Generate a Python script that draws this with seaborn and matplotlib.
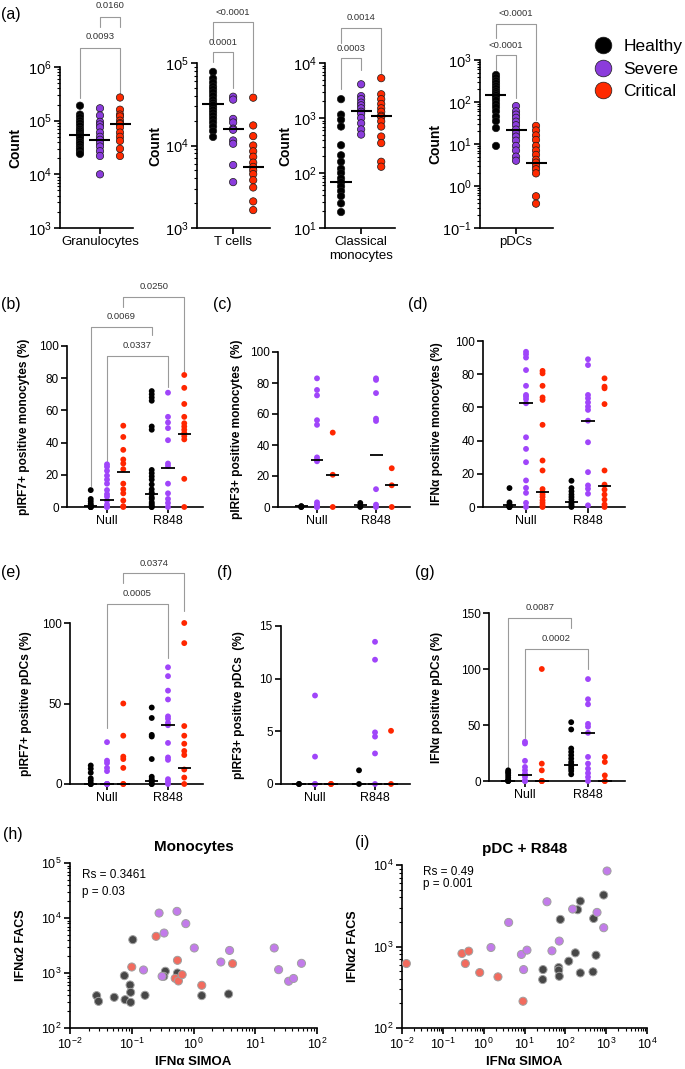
import matplotlib
matplotlib.use("Agg")
import matplotlib.pyplot as plt
import matplotlib.ticker as mticker
from matplotlib.lines import Line2D
from matplotlib.transforms import blended_transform_factory
import numpy as np
import pandas as pd
import seaborn as sns

W, H = 685, 1069
GROUPS = ["Healthy", "Severe", "Critical"]
STIMS = ["Null", "R848"]
OFF = [-0.267, 0.0, 0.267]  # seaborn dodge offsets for 3 hues

PAL_A = {"Healthy": "#000000", "Severe": "#8B3CDC", "Critical": "#FF2A00"}
PAL_B = {"Healthy": "#000000", "Severe": "#A045FA", "Critical": "#FF2600"}
PAL_C = {"Healthy": "#474747", "Severe": "#C27BEA", "Critical": "#F26B5E"}

# ---- (a) cell counts ----
GRAN = {
    "Healthy": [1.9e5, 1.3e5, 1.15e5, 1.0e5, 9.0e4, 8.0e4, 7.0e4, 6.5e4, 6.0e4, 5.5e4,
                5.2e4, 5.0e4, 4.5e4, 4.0e4, 3.7e4, 3.3e4, 3.0e4, 2.8e4, 2.5e4, 2.4e4],
    "Severe": [1.7e5, 1.25e5, 9.5e4, 8.5e4, 7.5e4, 6.0e4, 5.0e4, 4.4e4, 3.8e4, 3.3e4,
               2.7e4, 2.2e4, 1.0e4],
    "Critical": [2.7e5, 1.6e5, 1.3e5, 1.2e5, 1.0e5, 9.0e4, 8.6e4, 7.5e4, 6.0e4, 5.0e4,
                 4.2e4, 3.0e4, 2.2e4],
}
GRAN_MED = [5.4e4, 4.4e4, 8.6e4]

TCELL = {
    "Healthy": [7.8e4, 6.5e4, 5.8e4, 5.2e4, 4.8e4, 4.4e4, 4.0e4, 3.6e4, 3.3e4, 3.1e4,
                2.9e4, 2.7e4, 2.5e4, 2.3e4, 2.1e4, 1.9e4, 1.7e4, 1.5e4, 1.27e4],
    "Severe": [3.9e4, 3.6e4, 2.1e4, 1.9e4, 1.6e4, 1.55e4, 1.15e4, 1.05e4, 5.8e3, 3.6e3],
    "Critical": [3.8e4, 1.75e4, 1.3e4, 1.0e4, 8.5e3, 7.3e3, 6.2e3, 5.5e3, 5.0e3, 4.5e3,
                 3.8e3, 3.1e3, 2.1e3, 1.65e3],
}
TCELL_MED = [3.2e4, 1.6e4, 5.5e3]

CMONO = {
    "Healthy": [2.2e3, 1.15e3, 9.3e2, 7.0e2, 3.2e2, 2.1e2, 1.6e2, 1.2e2, 1.0e2, 8.0e1,
                6.8e1, 5.7e1, 4.7e1, 3.8e1, 2.8e1, 1.95e1],
    "Severe": [4.1e3, 2.5e3, 2.2e3, 1.9e3, 1.7e3, 1.5e3, 1.3e3, 1.2e3, 1.0e3, 8.0e2,
               6.2e2, 5.0e2],
    "Critical": [5.3e3, 2.7e3, 2.2e3, 1.8e3, 1.5e3, 1.3e3, 1.1e3, 1.05e3, 8.7e2, 7.0e2,
                 4.6e2, 3.5e2, 1.6e2, 1.3e2],
}
CMONO_MED = [68, 1.32e3, 1.07e3]

PDC = {
    "Healthy": [440, 380, 320, 280, 240, 210, 180, 160, 145, 130, 110, 90, 75, 60, 45,
                35, 24, 9],
    "Severe": [80, 60, 50, 42, 34, 28, 22, 18, 15, 12, 9, 7, 5, 4],
    "Critical": [27, 21, 16, 12.5, 9, 7, 5.5, 4.2, 3.6, 3.0, 2.5, 2.0, 0.57, 0.38],
}
PDC_MED = [147, 21.5, 3.6]

# ---- (b) pIRF7+ monocytes ----
B_NULL = {
    "Healthy": [10.5, 5, 3.5, 2, 1, 0.5, 0, 0, 0, 0],
    "Severe": [26.5, 25, 22.5, 19.5, 17, 14.5, 10.5, 8, 6.5, 4, 1.5, 0, 0],
    "Critical": [50.5, 43.5, 35.5, 29.5, 27, 23.5, 14.5, 11, 8.5, 4, 0.5, 0],
}
B_R848 = {
    "Healthy": [72, 70, 68, 66, 50, 48, 23, 21, 19, 17, 14, 11, 9, 8, 6, 5, 3, 2, 1, 0, 0],
    "Severe": [71, 56, 52.5, 49, 41.5, 27, 25.5, 14.5, 8.5, 5, 2.5, 0],
    "Critical": [82, 74, 64, 56, 52, 50, 48, 46, 44, 42, 17.5, 0],
}
B_MED = {"Null": [0.5, 4.2, 21.7], "R848": [8.2, 24.3, 45.4]}

# ---- (c) pIRF3+ monocytes ----
C_NULL = {
    "Healthy": [0, 0, 0.5, 0.5],
    "Severe": [83, 75.5, 72, 56, 53, 32, 30.5, 29.5, 3, 1.5, 0, 0],
    "Critical": [48, 20.8, 0],
}
C_R848 = {
    "Healthy": [2.6, 0.5, 0],
    "Severe": [83, 82, 73.5, 57, 55.5, 11.5, 1.5, 0],
    "Critical": [25, 14, 0],
}
C_MED = {"Null": [0.5, 30.4, 20.8], "R848": [1.5, 33.6, 14.1]}

# ---- (d) IFNa+ monocytes ----
D_NULL = {
    "Healthy": [11.4, 2.8, 1.5, 1, 0.5, 0, 0, 0],
    "Severe": [93.5, 92, 90, 82.5, 73, 67.5, 66.5, 65, 62.5, 42, 35, 27, 16, 11.5, 8.5,
               2.5, 0],
    "Critical": [82, 80.5, 73, 66, 64.5, 49.5, 28, 22, 10.8, 9, 7.5, 6, 4, 2.5, 1, 0],
}
D_R848 = {
    "Healthy": [15.8, 11.4, 9.4, 7.5, 6, 4.5, 2.8, 2.8, 1.5, 0.5, 0],
    "Severe": [89, 85.5, 67.5, 65.5, 63, 60.5, 58.5, 52, 39, 21, 13, 11, 8, 1],
    "Critical": [77.5, 72.5, 71.5, 62, 22, 13.5, 10.5, 7.5, 4.5, 1.5, 0],
}
D_MED = {"Null": [1.0, 62.4, 8.8], "R848": [2.8, 51.8, 12.4]}

# ---- (e) pIRF7+ pDCs ----
E_NULL = {
    "Healthy": [11.5, 9.5, 7, 3.5, 2, 0, 0, 0],
    "Severe": [26, 14.5, 13, 10, 8, 0, 0, 0, 0],
    "Critical": [50, 30, 17, 15.5, 10, 0, 0],
}
E_R848 = {
    "Healthy": [47.5, 41, 30.5, 29.5, 15.5, 4.5, 3, 2, 1.5, 0, 0],
    "Severe": [72.5, 67, 58, 52.5, 42, 40.5, 38, 36.5, 25.5, 16.5, 15, 3, 1.5, 0],
    "Critical": [100, 87.5, 36, 30, 25, 20.5, 18, 9, 4, 0],
}
E_MED = {"Null": [0, 0, 0], "R848": [2.0, 36.4, 10.0]}

# ---- (f) pIRF3+ pDCs ----
F_NULL = {
    "Healthy": [0, 0],
    "Severe": [8.4, 2.6, 0, 0],
    "Critical": [0, 0],
}
F_R848 = {
    "Healthy": [1.3, 0],
    "Severe": [13.5, 11.8, 4.9, 4.5, 2.9, 0],
    "Critical": [5.05, 0],
}
F_MED = {"Null": [0, 0, 0], "R848": [0, 0, 0]}

# ---- (g) IFNa+ pDCs ----
G_NULL = {
    "Healthy": [9.5, 8, 7, 5, 3, 1, 0, 0, 0],
    "Severe": [35, 33.5, 18, 12.5, 9.5, 6.5, 5.5, 3.5, 0, 0],
    "Critical": [100, 15.5, 9.5, 0, 0, 0],
}
G_R848 = {
    "Healthy": [52.5, 46, 29, 26, 23, 20, 17, 15, 13, 11, 9, 6],
    "Severe": [91, 73, 68.5, 51, 48.5, 43, 21.5, 15.5, 11, 7, 3.5, 0],
    "Critical": [21.5, 17, 5, 0, 0],
}
G_MED = {"Null": [0, 5.4, 0], "R848": [14.6, 43, 0]}

# ---- (h) Monocytes correlation ----
H_HEALTHY_X = [0.027, 0.029, 0.052, 0.076, 0.078, 0.094, 0.096, 0.096, 0.104, 0.164,
               0.35, 0.33, 0.55, 1.36, 3.7]
H_HEALTHY_Y = [388, 305, 361, 895, 327, 605, 445, 293, 4035, 393, 1075, 870, 1000, 388, 415]
H_SEVERE_X = [0.277, 0.54, 0.75, 0.334, 0.155, 0.31, 1.03, 2.77, 3.84, 20.3, 23.9, 34.7,
              41.7, 56]
H_SEVERE_Y = [12300, 13200, 7900, 5330, 1135, 870, 2850, 1585, 2570, 2850, 1150, 708, 795,
              1500]
H_CRIT_X = [0.1, 0.248, 0.55, 0.505, 0.57, 0.655, 1.36, 4.29]
H_CRIT_Y = [1285, 4640, 1700, 800, 716, 933, 597, 1480]

# ---- (i) pDC + R848 correlation ----
I_HEALTHY_X = [28.4, 27.9, 68.7, 68.7, 71, 75.5, 121, 176, 200, 233, 233, 476, 494, 564, 868]
I_HEALTHY_Y = [521, 393, 552, 512, 431, 2150, 660, 836, 2825, 3605, 474, 489, 2207, 781, 4280]
I_SEVERE_X = [1.51, 4.09, 8.4, 11.5, 9.5, 35.5, 47, 71, 151, 597, 871, 1050]
I_SEVERE_Y = [972, 1973, 799, 902, 521, 3540, 885, 1165, 2880, 2620, 1700, 8440]
I_CRIT_X = [0.0128, 0.294, 0.43, 0.356, 0.8, 2.24, 9.2]
I_CRIT_Y = [618, 820, 877, 618, 479, 424, 213]


sns.set_style("ticks")
plt.rcParams["font.family"] = ["Liberation Sans", "DejaVu Sans"]
plt.rcParams["axes.linewidth"] = 1.2
plt.rcParams["axes.edgecolor"] = "black"
plt.rcParams["text.color"] = "black"
plt.rcParams["axes.labelcolor"] = "black"

fig = plt.figure(figsize=(W / 100, H / 100), dpi=100)


def px_axes(box):
    left, top, right, bottom = box
    return fig.add_axes([left / W, 1 - bottom / H, (right - left) / W, (bottom - top) / H])


def log_ticks(axis):
    axis.set_major_locator(mticker.LogLocator(base=10, numticks=12))
    axis.set_minor_locator(mticker.LogLocator(base=10, subs=np.arange(2, 10), numticks=120))
    axis.set_minor_formatter(mticker.NullFormatter())


def style(ax, labelsize=8.5):
    sns.despine(ax=ax)
    ax.tick_params(which="major", direction="out", length=4, width=1.2, colors="black",
                   labelsize=labelsize, pad=2)
    ax.tick_params(which="minor", direction="out", length=2.2, width=0.8, colors="black")


def bracket(ax, x1, x2, y, y1, y2, text, ty):
    tr = blended_transform_factory(ax.transData, ax.transAxes)
    ax.plot([x1, x1, x2, x2], [y1, y, y, y2], color="#9a9a9a", lw=0.8,
            transform=tr, clip_on=False)
    ax.text((x1 + x2) / 2, ty, text, transform=tr, ha="center", va="center",
            fontsize=6.8, color="#333333")


def count_panel(box, name, data, med, ylim, xlim, lab_x):
    ax = px_axes(box)
    df = pd.DataFrame([(name, g, v) for g in GROUPS for v in data[g]],
                      columns=["cell", "group", "count"])
    sns.stripplot(data=df, x="cell", y="count", hue="group", hue_order=GROUPS,
                  palette=PAL_A, dodge=True, jitter=False, size=5.3,
                  edgecolor="#1a1a1a", linewidth=0.5, legend=False, ax=ax)
    for coll in ax.collections:
        coll.set_clip_on(False)
    for j, m in enumerate(med):
        ax.hlines(m, OFF[j] - 0.14, OFF[j] + 0.14, color="black", lw=1.5, zorder=5)
    ax.set_yscale("log")
    log_ticks(ax.yaxis)
    ax.set_ylim(ylim)
    ax.set_xlim(xlim)
    style(ax, labelsize=10.5)
    ax.tick_params(axis="x", labelsize=9.5)
    ax.set_xlabel("")
    ax.set_ylabel("Count", fontsize=10, fontweight="bold")
    ax.yaxis.set_label_coords(lab_x, 0.5)
    return ax


def dot_panel(box, xlim, ymax, yticks, null, r848, med, ylabel, lab_x):
    ax = px_axes(box)
    rows = []
    for stim, d in (("Null", null), ("R848", r848)):
        for g in GROUPS:
            for v in d[g]:
                rows.append((stim, g, v))
    df = pd.DataFrame(rows, columns=["stim", "group", "value"])
    sns.stripplot(data=df, x="stim", y="value", hue="group", order=STIMS,
                  hue_order=GROUPS, palette=PAL_B, dodge=True, jitter=False,
                  size=4.2, linewidth=0, legend=False, ax=ax)
    for coll in ax.collections:
        coll.set_clip_on(False)
    for i, stim in enumerate(STIMS):
        for j, m in enumerate(med[stim]):
            xc = i + OFF[j]
            ax.hlines(m, xc - 0.11, xc + 0.11, color="black", lw=1.3, zorder=5,
                      clip_on=False)
    ax.set_xlim(xlim)
    ax.set_ylim(0, ymax)
    ax.set_yticks(yticks)
    style(ax)
    ax.tick_params(axis="x", labelsize=9)
    ax.set_xlabel("")
    ax.set_ylabel(ylabel, fontsize=8.6, fontweight="bold")
    ax.yaxis.set_label_coords(lab_x, 0.5)
    return ax


def corr_panel(box, xlim, ylim, hx, hy, sx, sy, cx, cy, title, rs, pval, tx, ty1, ty2):
    ax = px_axes(box)
    df = pd.DataFrame({
        "x": hx + sx + cx,
        "y": hy + sy + cy,
        "group": ["Healthy"] * len(hx) + ["Severe"] * len(sx) + ["Critical"] * len(cx),
    })
    sns.scatterplot(data=df, x="x", y="y", hue="group", hue_order=GROUPS,
                    palette=PAL_C, s=34, edgecolor="#a0a0a0", linewidth=0.7,
                    legend=False, ax=ax, zorder=3)
    for coll in ax.collections:
        coll.set_clip_on(False)
    ax.set_xscale("log")
    ax.set_yscale("log")
    log_ticks(ax.xaxis)
    log_ticks(ax.yaxis)
    ax.set_xlim(xlim)
    ax.set_ylim(ylim)
    style(ax, labelsize=9)
    ax.set_xlabel("IFN\u03b1 SIMOA", fontsize=9.5, fontweight="bold", labelpad=3)
    ax.set_ylabel("IFN\u03b12 FACS", fontsize=9, fontweight="bold")
    ax.yaxis.set_label_coords(-0.175, 0.5)
    ax.set_title(title, fontsize=11, fontweight="bold", pad=9)
    ax.text(tx, ty1, rs, transform=ax.transAxes, fontsize=8.5, va="center")
    ax.text(tx, ty2, pval, transform=ax.transAxes, fontsize=8.5, va="center")
    return ax


# ---- panel (a) ----
ax = count_panel((60, 67, 133, 228), "Granulocytes", GRAN, GRAN_MED, (1e3, 1e6),
                 (-0.533, 0.44), -0.52)
bracket(ax, OFF[0], OFF[2], 1.118, 0.807, 0.814, "0.0093", 1.19)
bracket(ax, OFF[1], OFF[2], 1.31, 1.248, 1.248, "0.0160", 1.385)

ax = count_panel((197, 63, 270, 228), "T cells", TCELL, TCELL_MED, (1e3, 1e5),
                 (-0.48, 0.49), -0.48)
bracket(ax, OFF[0], OFF[1], 1.067, 1.006, 0.848, "0.0001", 1.127)
bracket(ax, OFF[0], OFF[2], 1.248, 1.121, 0.824, "<0.0001", 1.309)

ax = count_panel((325, 63, 395, 228), "Classical\nmonocytes", CMONO, CMONO_MED,
                 (1e1, 1e4), (-0.48, 0.45), -0.46)
bracket(ax, OFF[0], OFF[1], 1.03, 0.842, 0.958, "0.0003", 1.09)
bracket(ax, OFF[0], OFF[2], 1.212, 1.121, 0.939, "0.0014", 1.273)

ax = count_panel((480, 60, 553, 228), "pDCs", PDC, PDC_MED, (1e-1, 1e3),
                 (-0.48, 0.493), -0.51)
bracket(ax, OFF[0], OFF[1], 1.03, 0.94, 0.774, "<0.0001", 1.089)
bracket(ax, OFF[0], OFF[2], 1.214, 1.131, 0.643, "<0.0001", 1.274)

handles = [Line2D([], [], marker="o", ls="", markersize=12, markerfacecolor=PAL_A[g],
                  markeredgecolor="#1a1a1a", markeredgewidth=0.5) for g in GROUPS]
fig.legend(handles, GROUPS, loc="upper left", bbox_to_anchor=(593 / W, 1 - 39 / H),
           frameon=False, fontsize=12.5, handletextpad=0.55, labelspacing=0.42,
           borderaxespad=0, borderpad=0, handlelength=1.2)

# ---- panels (b)-(d) ----
ax = dot_panel((67, 346, 203, 507), (-0.656, 1.574), 100, range(0, 101, 20),
               B_NULL, B_R848, B_MED, "pIRF7+ positive monocytes (%)", -0.272)
bracket(ax, 0 + OFF[2], 1 + OFF[2], 1.306, 1.244, 0.841, "0.0250", 1.37)
bracket(ax, 0 + OFF[0], 1 + OFF[0], 1.12, 0.128, 1.068, "0.0069", 1.186)
bracket(ax, 0 + OFF[1], 1 + OFF[1], 0.94, 0.273, 0.748, "0.0337", 1.002)

dot_panel((278, 352, 410, 507), (-0.661, 1.576), 100, range(0, 101, 20),
          C_NULL, C_R848, C_MED, "pIRF3+ positive monocytes  (%)", -0.265)

dot_panel((483, 341, 625, 507), (-0.694, 1.597), 100, range(0, 101, 20),
          D_NULL, D_R848, D_MED, "IFN\u03b1 positive monocytes (%)", -0.28)

# ---- panels (e)-(g) ----
ax = dot_panel((70, 623, 203, 784), (-0.607, 1.574), 100, [0, 50, 100],
               E_NULL, E_R848, E_MED, "pIRF7+ positive pDCs (%)", -0.286)
bracket(ax, 0 + OFF[2], 1 + OFF[2], 1.31, 1.247, 1.075, "0.0374", 1.37)
bracket(ax, 0 + OFF[1], 1 + OFF[1], 1.12, 0.349, 0.784, "0.0005", 1.185)

dot_panel((281, 626, 410, 784), (-0.567, 1.583), 15, [0, 5, 10, 15],
          F_NULL, F_R848, F_MED, "pIRF3+ positive pDCs  (%)", -0.28)

ax = dot_panel((489, 613, 625, 781), (-0.571, 1.587), 150, [0, 50, 100, 150],
               G_NULL, G_R848, G_MED, "IFN\u03b1 positive pDCs (%)", -0.34)
bracket(ax, 0 + OFF[0], 1 + OFF[0], 0.97, 0.073, 0.91, "0.0087", 1.033)
bracket(ax, 0 + OFF[1], 1 + OFF[1], 0.787, 0.253, 0.667, "0.0002", 0.85)

# ---- panels (h)-(i) ----
corr_panel((70, 863, 317, 1028), (1e-2, 1e2), (1e2, 1e5),
           H_HEALTHY_X, H_HEALTHY_Y, H_SEVERE_X, H_SEVERE_Y, H_CRIT_X, H_CRIT_Y,
           "Monocytes", "Rs = 0.3461", "p = 0.03", 0.049, 0.927, 0.824)
corr_panel((402, 865, 647, 1028), (1e-2, 1e4), (1e2, 1e4),
           I_HEALTHY_X, I_HEALTHY_Y, I_SEVERE_X, I_SEVERE_Y, I_CRIT_X, I_CRIT_Y,
           "pDC + R848", "Rs = 0.49", "p = 0.001", 0.086, 0.957, 0.883)

# panel letters
for letter, x, y in [("(a)", 1, 15), ("(b)", 1, 305), ("(c)", 213, 305), ("(d)", 408, 305),
                     ("(e)", 1, 572), ("(f)", 217, 572), ("(g)", 415, 573),
                     ("(h)", 3, 835), ("(i)", 355, 842)]:
    fig.text(x / W, 1 - y / H, letter, fontsize=11.5, ha="left", va="center")

fig.savefig("out.png", dpi=100)
